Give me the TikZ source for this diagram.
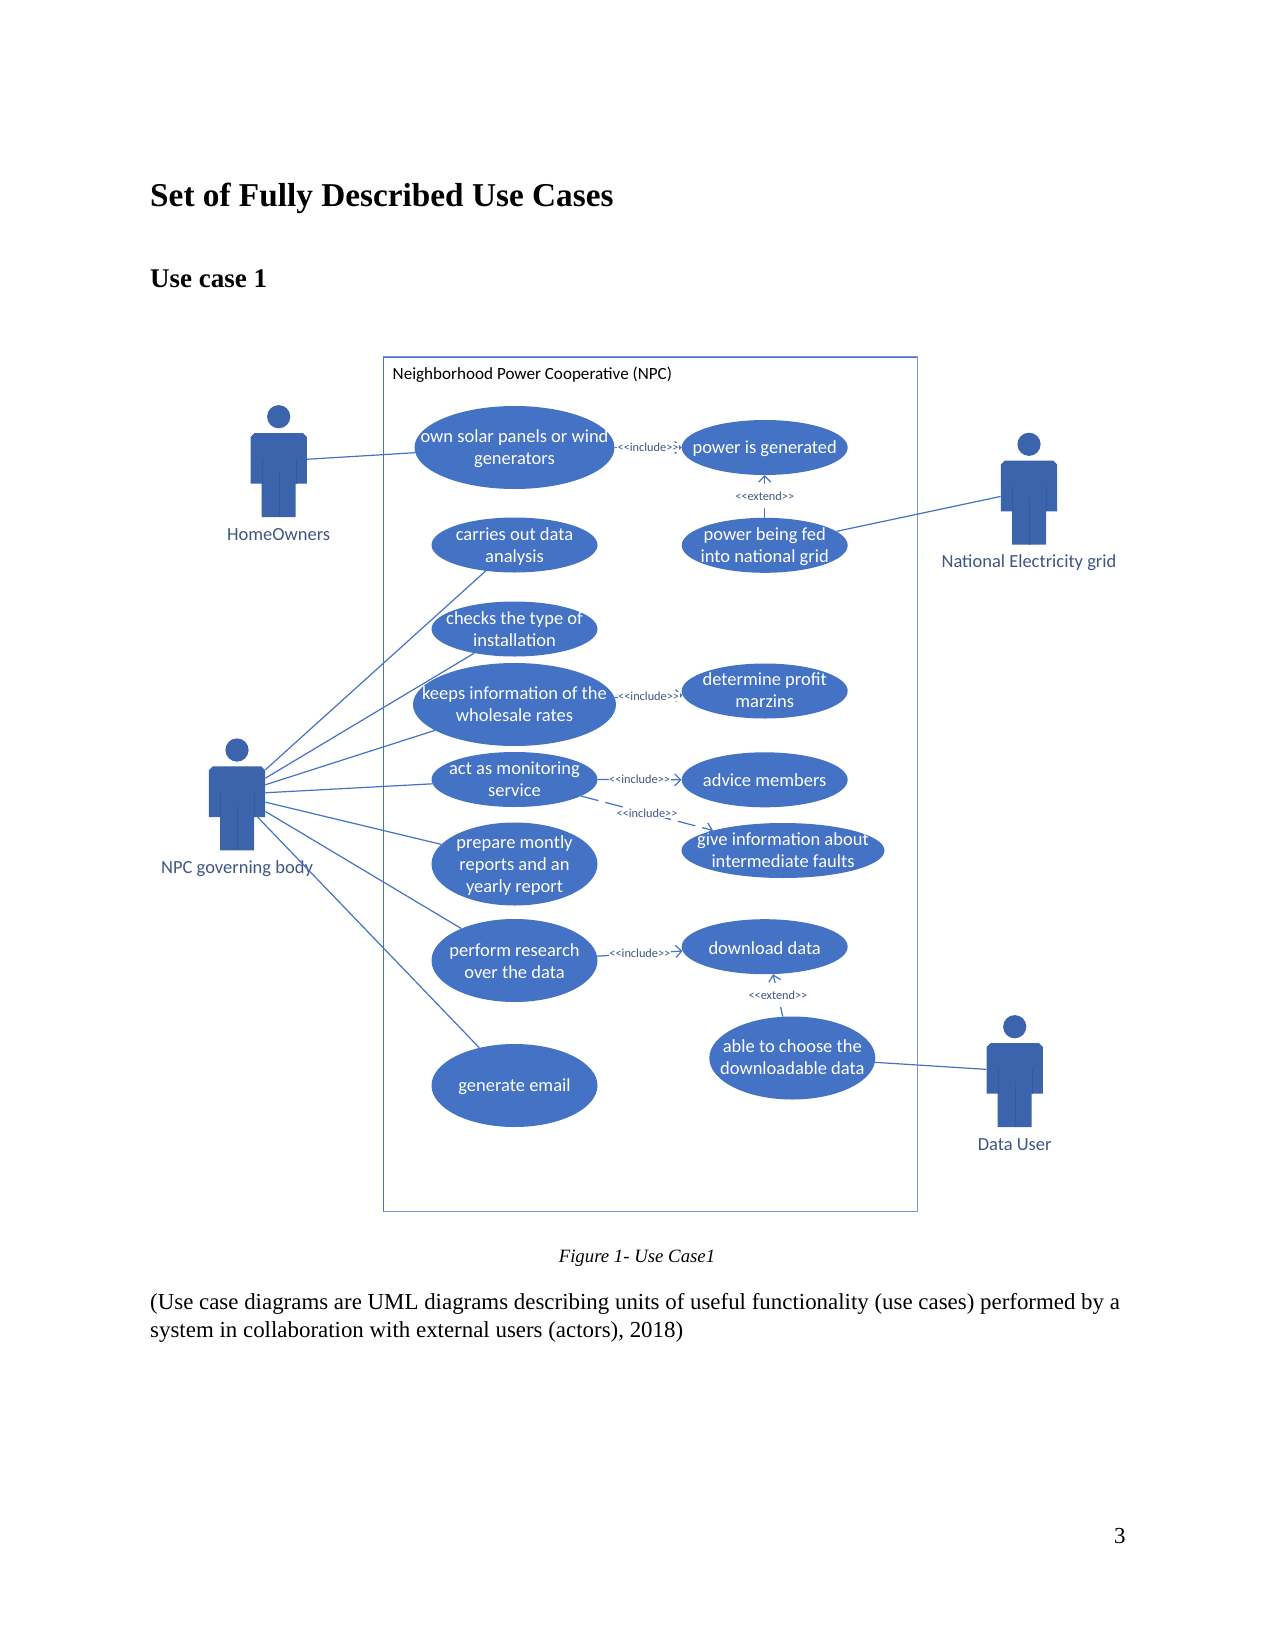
\documentclass[tikz,border=0pt]{standalone}
\usepackage{fontspec}
\setmainfont{Liberation Serif}
\newfontfamily\calib{Carlito}
\usetikzlibrary{shapes.geometric,arrows.meta}
\definecolor{ucblue}{HTML}{4472C4}
\definecolor{framepale}{HTML}{8497C9}
\definecolor{actorblue}{HTML}{3B64AD}
\definecolor{actorline}{HTML}{34599C}
\definecolor{actortext}{HTML}{3F5685}
\tikzset{
  usecase/.style={ellipse,fill=ucblue,draw=none,inner sep=0pt},
  uctext/.style={text=white,align=center,inner sep=0pt,
    font=\calib\fontsize{18.5}{22}\selectfont},
  ucsmall/.style={usecase,minimum width=166pt,minimum height=55pt},
  ucbig/.style={usecase,minimum width=166pt,minimum height=83pt},
  assoc/.style={draw=ucblue,line width=1.2pt},
  relation/.style={assoc,-{Straight Barb[length=6pt,width=12pt,line width=1.2pt]}},
  rellabel/.style={fill=white,inner sep=.5pt,text=actortext,font=\calib\fontsize{12.3}{13}\selectfont},
  extlabel/.style={rellabel,minimum height=24pt},
  actorname/.style={text=actortext,font=\calib\fontsize{18.5}{20}\selectfont},
  pagetext/.style={anchor=base west,inner sep=0pt},
}
% Use case: an ellipse of fixed size, its wording set on top so it cannot stretch the outline.
% The optional argument nudges the wording vertically.
\newcommand{\usecasenode}[5][-1pt]{\node[#2,label={[uctext,yshift=#1]center:{#5}}] (#3) at (#4) {};}
% Actor figure: head, torso with arms and legs, seams; the named node is the torso.
\newcommand{\actorfig}[4]{%
  \begin{scope}[shift={(#2,#3)}]
    \fill[actorblue] (0,0) circle[radius=11.6pt];
    \fill[actorblue] (-24.2,16.3) -- (24.2,16.3) -- (28.2,20.3) -- (28.2,67) -- (17,67) -- (17,100.3)
      -- (-17,100.3) -- (-17,67) -- (-28.2,67) -- (-28.2,20.3) -- cycle;
    \draw[actorline,line width=.4pt] (0,55) -- (0,100.3) (-17,42) -- (-17,67) (17,42) -- (17,67);
    \node[minimum width=56.4pt,minimum height=50.7pt,inner sep=0pt] (#1) at (0,41.65) {};
    \node[actorname] (#1label) at (0,118.2) {#4};
  \end{scope}}
\begin{document}
\begin{tikzpicture}[x=1pt,y=-1pt]
  \useasboundingbox[fill=white] (0,0) rectangle (1275,1651);

  % page text
  \node[pagetext,font=\bfseries\fontsize{33.3}{40}\selectfont] (title) at (150,206) {Set of Fully Described Use Cases};
  \node[pagetext,font=\bfseries\fontsize{27}{32}\selectfont] (subtitle) at (150,287.5) {Use case 1};
  \node[anchor=base,inner sep=0pt,font=\itshape\fontsize{18.8}{22}\selectfont] (caption) at (637,1262) {Figure 1- Use Case1};
  \node[pagetext,font=\fontsize{22.9}{26}\selectfont] (body1) at (150,1309) {(Use case diagrams are UML diagrams describing units of useful functionality (use cases) performed by a};
  \node[pagetext,font=\fontsize{22.9}{26}\selectfont] (body2) at (150,1337) {system in collaboration with external users (actors), 2018)};
  \node[pagetext,font=\fontsize{22.9}{26}\selectfont] (pageno) at (1114,1543) {3};

  % system boundary
  \node[draw=ucblue,line width=1pt,minimum width=533.7pt,minimum height=854pt,inner sep=0pt] (frame) at (650.15,784) {};
  \draw[framepale,line width=1.3pt] (frame.north west) -- (frame.north east) -- (frame.south east) -- (frame.south west);
  \node[anchor=west,inner sep=0pt,font=\calib\fontsize{17.1}{20}\selectfont] (frametitle) at (392.5,374.5) {Neighborhood Power Cooperative (NPC)};

  % use cases, left column
  \usecasenode{ucbig,minimum width=200pt}{own}{514.5,447.5}{own solar panels or wind\\generators}
  \usecasenode[-2pt]{ucsmall}{carries}{514.5,545}{carries out data\\analysis}
  \usecasenode[0pt]{ucsmall}{checks}{514.5,629}{checks the type of\\installation}
  \usecasenode[0pt]{ucbig,minimum width=203pt}{keeps}{514.5,704.5}{keeps information of the\\wholesale rates}
  \usecasenode[0pt]{ucsmall}{act}{514.5,779.5}{act as monitoring\\service}
  \usecasenode[-2pt]{ucbig}{prepare}{514.5,864}{prepare montly\\reports and an\\yearly report}
  \usecasenode{ucbig}{perform}{514.5,960.5}{perform research\\over the data}
  \usecasenode{ucbig}{email}{514.5,1085.5}{generate email}

  % use cases, right column
  \usecasenode{ucsmall}{power}{764.7,447.5}{power is generated}
  \usecasenode{ucsmall}{fed}{764.7,545.3}{power being fed\\into national grid}
  \usecasenode[.5pt]{ucsmall}{profit}{764.7,691}{determine profit\\marzins}
  \usecasenode[0pt]{ucsmall}{advice}{764.7,779.8}{advice members}
  \usecasenode[0pt]{ucsmall,minimum width=203pt}{give}{783,850.5}{give information about\\intermediate faults}
  \usecasenode{ucsmall}{download}{764.7,946.7}{download data}
  \usecasenode[1pt]{ucbig}{choose}{792.3,1058}{able to choose the\\downloadable data}

  % actors
  \actorfig{home}{278.7}{416.7}{HomeOwners}
  \actorfig{npc}{237}{750}{NPC governing body}
  \actorfig{grid}{1029}{444.3}{National Electricity grid}
  \actorfig{datauser}{1014.7}{1026.7}{Data User}

  % associations between actors and use cases
  \draw[assoc] ([yshift=-0.9pt]home.east) -- (own.183.4);
  \draw[assoc] ([yshift=21.9pt]npc.east) -- (carries.222.8);
  \draw[assoc] ([yshift=13.5pt]npc.east) -- (checks.211.7);
  \draw[assoc] ([yshift=6.9pt]npc.east) -- (keeps.198.2);
  \draw[assoc] ([yshift=-1.1pt]npc.east) -- (act.183);
  \draw[assoc] ([yshift=-10.5pt]npc.east) -- (prepare.165.9);
  \draw[assoc] ([yshift=-19.8pt]npc.east) -- (perform.149.3);
  \draw[assoc] ([xshift=-7.7pt]npc.south east) -- (email.133.8);
  \draw[assoc] ([yshift=-10.5pt]grid.west) -- (fed.11.7);
  \draw[assoc] ([yshift=-1pt]datauser.west) -- (choose.-3.3);

  % include and extend relations
  \draw[relation] (own.east) -- (power.west) node[rellabel,pos=.5] (l1) {<<include>>};
  \draw[relation] (keeps.4.2) -- (profit.183.4) node[rellabel,pos=.5] (l2) {<<include>>};
  \draw[relation] (act.east) -- (advice.west) node[rellabel,pos=.5] (l3) {<<include>>};
  \draw[relation,dashed,dash pattern=on 18pt off 7pt] (act.-14.7) -- (give.164.1) node[rellabel,pos=.5] (l4) {<<include>>};
  \draw[relation] (perform.3.3) -- (download.183.4) node[rellabel,pos=.5] (l5) {<<include>>};
  \draw[relation] (fed.north) -- (power.south) node[extlabel,pos=.5] (l6) {<<extend>>};
  \draw[relation] (choose.103.6) -- (download.-73.1) node[extlabel,pos=.5] (l7) {<<extend>>};
\end{tikzpicture}
\end{document}
